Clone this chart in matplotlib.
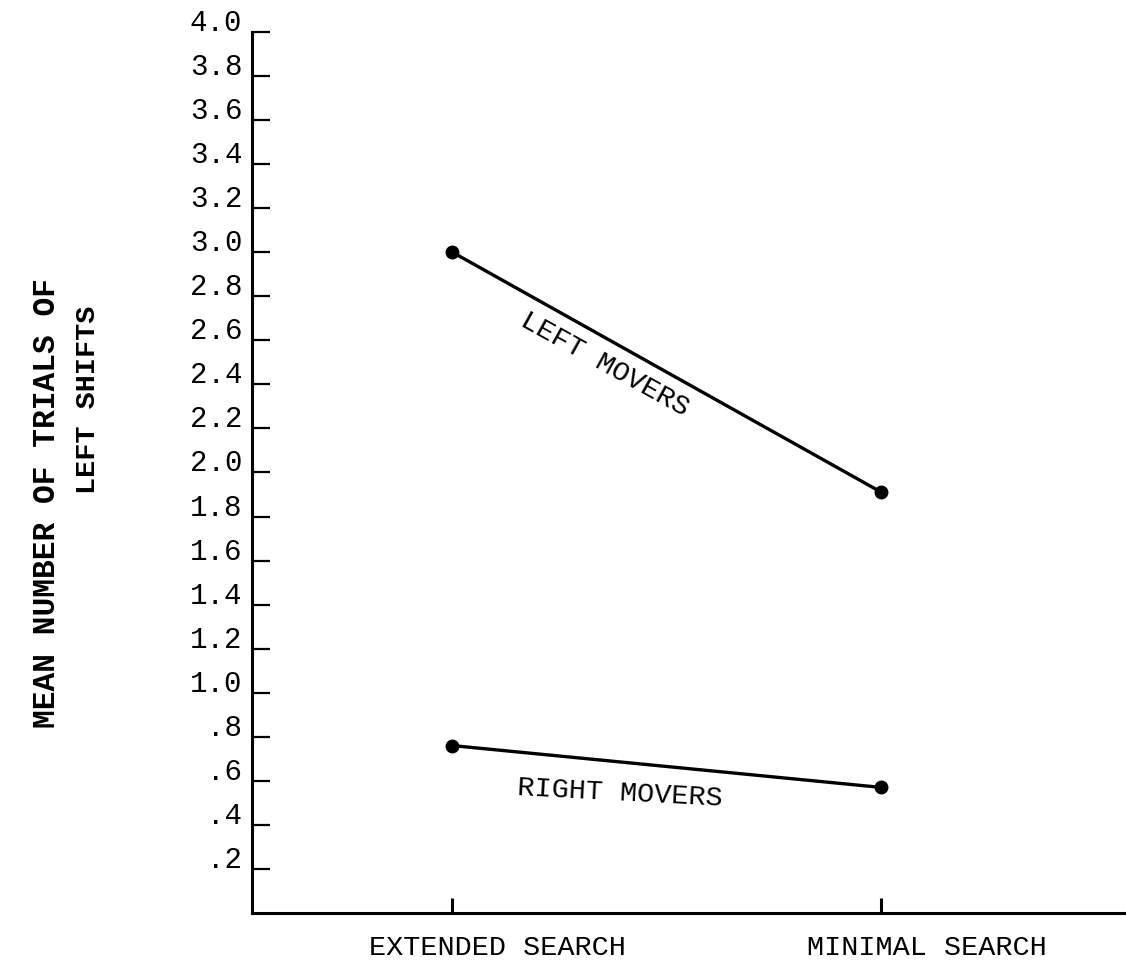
import matplotlib
matplotlib.use('Agg')
import matplotlib.pyplot as plt
import matplotlib.transforms as mtransforms
import numpy as np

# data
conditions = ['EXTENDED SEARCH', 'MINIMAL SEARCH']
left_movers = [3.0, 1.91]
right_movers = [0.76, 0.57]
ytick_vals = [0.2, 0.4, 0.6, 0.8, 1.0, 1.2, 1.4, 1.6, 1.8, 2.0,
              2.2, 2.4, 2.6, 2.8, 3.0, 3.2, 3.4, 3.6, 3.8, 4.0]
ytick_labels = ['.2', '.4', '.6', '.8', '1.0', '1.2', '1.4', '1.6', '1.8', '2.0',
                '2.2', '2.4', '2.6', '2.8', '3.0', '3.2', '3.4', '3.6', '3.8', '4.0']

plt.rcParams['font.family'] = ['Liberation Mono', 'DejaVu Sans Mono']

fig = plt.figure(figsize=(11.26, 9.65), dpi=100)
ax = fig.add_axes([0.2238, 0.0539, 0.78, 0.913])

x = np.arange(len(conditions))
ax.plot(x, left_movers, color='black', lw=2.4, marker='o', ms=9, zorder=3)
ax.plot(x, right_movers, color='black', lw=2.4, marker='o', ms=9, zorder=3)

ax.set_xlim(-0.467, 1.58)
ax.set_ylim(0, 4.0)

ax.spines['right'].set_visible(False)
ax.spines['top'].set_visible(False)
ax.spines['left'].set_linewidth(2.2)
ax.spines['bottom'].set_linewidth(2.2)

ax.set_yticks(ytick_vals)
ax.set_yticklabels(ytick_labels, fontsize=21)
ax.tick_params(axis='y', direction='in', length=13, width=1.6, pad=7)
ax.set_xticks(x)
ax.set_xticklabels(conditions, fontsize=20.5)
ax.tick_params(axis='x', direction='in', length=11, width=2.2, pad=16)

# typed labels sit a bit above the hand-drawn ticks
up = mtransforms.ScaledTranslation(0, 12 / 100, fig.dpi_scale_trans)
for lab in ax.get_yticklabels():
    lab.set_transform(lab.get_transform() + up)
right = mtransforms.ScaledTranslation(45 / 100, 0, fig.dpi_scale_trans)
for lab in ax.get_xticklabels():
    lab.set_transform(lab.get_transform() + right)

ax.text(0.356, 2.49, 'LEFT MOVERS', rotation=-29, ha='center', va='center',
        fontsize=20.5, rotation_mode='anchor')
ax.text(0.39, 0.545, 'RIGHT MOVERS', rotation=-3, ha='center', va='center',
        fontsize=20.5, rotation_mode='anchor')

fig.text(47 / 1126, 1 - 503 / 965, 'MEAN NUMBER OF TRIALS OF', rotation=90,
         ha='center', va='center', fontsize=22.5, fontweight='bold')
fig.text(88 / 1126, 1 - 400 / 965, 'LEFT SHIFTS', rotation=90,
         ha='center', va='center', fontsize=20.5, fontweight='bold')

fig.savefig('out.png', dpi=100)
